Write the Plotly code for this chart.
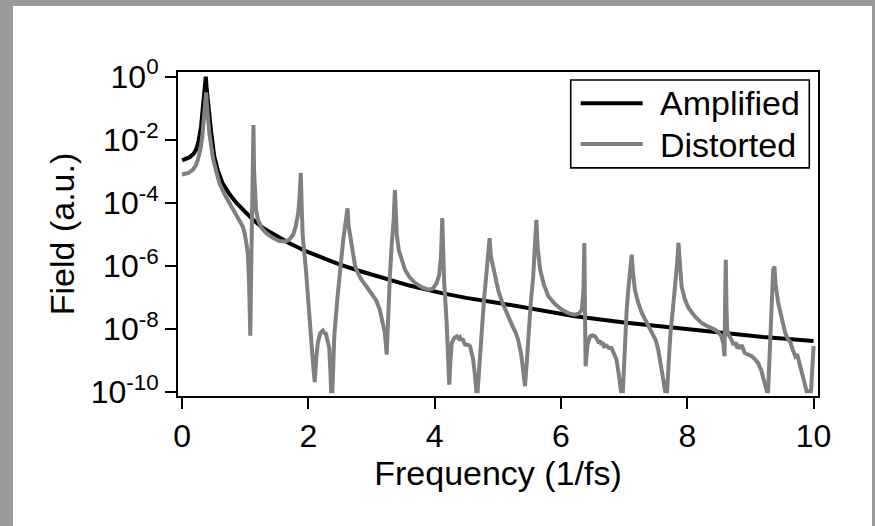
import plotly.graph_objects as go

# ---- data (frequency in 1/fs, field as log10 exponent) ----
amp_freq = [0.00, 0.05, 0.12, 0.18, 0.22, 0.26, 0.30, 0.33, 0.355, 0.375, 0.39, 0.40, 0.43,
            0.46, 0.51, 0.57, 0.64, 0.75, 0.86, 1.00, 1.12, 1.30, 1.49, 1.70, 1.96, 2.20,
            2.49, 2.80, 3.27, 3.60, 4.11, 4.50, 5.01, 5.50, 6.22, 7.00, 7.54, 8.54, 9.20, 10.00]
amp_log = [-2.65, -2.62, -2.55, -2.45, -2.32, -2.05, -1.58, -0.95, -0.42, 0.00, -0.40, -0.62, -1.16,
           -1.75, -2.53, -3.00, -3.37, -3.72, -4.00, -4.28, -4.53, -4.82, -5.05, -5.28, -5.53, -5.73,
           -5.95, -6.15, -6.43, -6.62, -6.86, -7.01, -7.17, -7.33, -7.59, -7.79, -7.91, -8.12, -8.25, -8.38]

dist_freq = [0.00, 0.10, 0.17, 0.22, 0.25, 0.29, 0.32, 0.345, 0.365, 0.38, 0.395, 0.41, 0.43, 0.46,
             0.49, 0.54, 0.59, 0.67, 0.75, 0.83, 0.91, 0.96, 0.99, 1.02, 1.04, 1.06, 1.07, 1.08,
             1.095, 1.11, 1.12, 1.13, 1.14, 1.15, 1.17, 1.20, 1.26, 1.33, 1.43, 1.54, 1.63, 1.70,
             1.76, 1.80, 1.84, 1.86, 1.88, 1.895, 1.91, 1.96, 2.00, 2.04, 2.07, 2.10, 2.125, 2.15,
             2.19, 2.23, 2.26, 2.27, 2.29, 2.31, 2.33, 2.35, 2.36, 2.38, 2.41, 2.46, 2.50, 2.55,
             2.58, 2.61, 2.62, 2.635, 2.66, 2.70, 2.74, 2.79, 2.84, 2.92, 3.00, 3.07, 3.13, 3.18,
             3.21, 3.24, 3.265, 3.29, 3.32, 3.35, 3.37, 3.385, 3.40, 3.43, 3.48, 3.53, 3.60, 3.69,
             3.80, 3.90, 3.97, 4.03, 4.07, 4.10, 4.12, 4.135, 4.15, 4.19, 4.21, 4.23, 4.25, 4.27,
             4.31, 4.35, 4.38, 4.40, 4.42, 4.44, 4.48, 4.53, 4.56, 4.59, 4.61, 4.64, 4.66, 4.68,
             4.71, 4.74, 4.78, 4.82, 4.85, 4.87, 4.89, 4.93, 4.98, 5.01, 5.06, 5.14, 5.22, 5.28,
             5.32, 5.37, 5.40, 5.43, 5.46, 5.48, 5.52, 5.56, 5.59, 5.61, 5.63, 5.67, 5.73, 5.80,
             5.90, 6.01, 6.12, 6.22, 6.29, 6.33, 6.355, 6.37, 6.38, 6.39, 6.42, 6.46, 6.50, 6.54,
             6.58, 6.60, 6.62, 6.64, 6.66, 6.68, 6.72, 6.76, 6.80, 6.85, 6.88, 6.92, 6.95, 6.98,
             7.01, 7.04, 7.07, 7.10, 7.12, 7.14, 7.17, 7.22, 7.28, 7.36, 7.44, 7.50, 7.54, 7.57,
             7.61, 7.65, 7.68, 7.73, 7.77, 7.81, 7.84, 7.86, 7.88, 7.91, 7.96, 8.02, 8.12, 8.23,
             8.34, 8.44, 8.50, 8.54, 8.57, 8.59, 8.60, 8.61, 8.62, 8.63, 8.66, 8.70, 8.73, 8.76,
             8.79, 8.81, 8.84, 8.86, 8.91, 8.96, 9.02, 9.07, 9.12, 9.17, 9.20, 9.23, 9.26, 9.28,
             9.31, 9.34, 9.36, 9.38, 9.40, 9.44, 9.50, 9.55, 9.60, 9.63, 9.67, 9.71, 9.74, 9.76,
             9.81, 9.85, 9.89, 9.96, 10.00]
dist_log = [-3.10, -3.05, -2.95, -2.80, -2.63, -2.30, -1.89, -1.35, -0.85, -0.50, -0.95, -1.35, -1.75, -2.20,
            -2.60, -3.00, -3.37, -3.72, -4.00, -4.27, -4.53, -4.75, -4.95, -5.25, -5.58, -6.50, -7.16, -8.21,
            -6.00, -4.42, -3.20, -1.53, -3.00, -3.79, -4.20, -4.53, -4.80, -4.95, -5.10, -5.21, -5.22, -5.16,
            -5.00, -4.74, -4.30, -3.80, -3.05, -4.20, -5.05, -6.10, -7.00, -8.21, -9.00, -9.68, -8.90, -8.42,
            -8.12, -8.05, -8.15, -8.10, -8.25, -8.40, -8.60, -9.40, -9.97, -9.97, -8.21, -7.00, -6.12, -5.20,
            -4.75, -4.30, -4.17, -4.70, -5.06, -5.60, -6.01, -6.25, -6.43, -6.65, -6.86, -7.08, -7.38, -7.80,
            -8.12, -8.81, -7.40, -6.33, -5.30, -4.54, -3.59, -4.60, -5.00, -5.49, -5.85, -6.12, -6.35, -6.54,
            -6.68, -6.75, -6.72, -6.54, -6.30, -5.70, -4.48, -5.60, -6.50, -7.81, -8.60, -9.76, -9.00, -8.44,
            -8.28, -8.23, -8.30, -8.26, -8.36, -8.30, -8.49, -8.50, -8.54, -8.75, -8.97, -9.50, -9.97, -9.97,
            -8.90, -8.23, -7.10, -6.12, -5.50, -5.12, -5.70, -6.12, -6.60, -6.80, -7.10, -7.50, -7.85, -8.10,
            -8.33, -8.80, -9.28, -9.81, -9.00, -8.23, -7.20, -6.33, -5.30, -4.54, -5.40, -6.12, -6.60, -6.96,
            -7.20, -7.38, -7.50, -7.54, -7.50, -7.38, -6.80, -5.27, -7.50, -9.18, -8.50, -8.23, -8.20, -8.23,
            -8.35, -8.45, -8.36, -8.50, -8.42, -8.55, -8.52, -8.60, -8.60, -8.80, -8.97, -9.50, -9.97, -9.97,
            -8.23, -7.40, -6.65, -6.00, -5.64, -6.20, -6.75, -7.15, -7.49, -7.80, -8.12, -8.35, -8.65, -9.07,
            -9.60, -9.97, -9.97, -8.23, -7.40, -6.65, -5.90, -5.27, -6.00, -6.65, -7.05, -7.33, -7.60, -7.81,
            -7.93, -8.02, -8.12, -8.23, -8.45, -8.86, -7.00, -5.80, -7.20, -8.02, -8.20, -8.33, -8.50, -8.42,
            -8.60, -8.54, -8.62, -8.50, -8.76, -8.80, -8.86, -8.95, -9.07, -9.30, -9.49, -9.75, -9.97, -9.97,
            -8.23, -7.00, -6.12, -6.01, -6.60, -7.17, -7.70, -8.12, -8.35, -8.40, -8.65, -8.86, -8.80, -8.95,
            -9.28, -9.60, -9.97, -9.97, -8.54]

x_ticks = [0, 2, 4, 6, 8, 10]
y_tick_exp = [0, -2, -4, -6, -8, -10]
series_names = ["Amplified", "Distorted"]
series_colors = ["#000000", "#808080"]

amp_field = [10 ** v for v in amp_log]
dist_field = [10 ** v for v in dist_log]

FONT = "Liberation Sans, Arial, Helvetica, sans-serif"

fig = go.Figure()
fig.add_trace(go.Scatter(x=amp_freq, y=amp_field, mode="lines", name=series_names[0],
                         line=dict(color=series_colors[0], width=4), showlegend=False))
fig.add_trace(go.Scatter(x=dist_freq, y=dist_field, mode="lines", name=series_names[1],
                         line=dict(color=series_colors[1], width=4), showlegend=False))

# plot area in pixels: left 178, right 818, top 72, bottom 396.5
L, R, T, B = 178, 818, 72, 396.5
W, H = R - L, B - T
def px(x):
    return (x - L) / W
def py(y):
    return (B - y) / H

shapes = [
    # white card on grey page
    dict(type="rect", xref="paper", yref="paper", x0=px(13), x1=px(872), y0=py(540), y1=py(6),
         fillcolor="white", line=dict(width=0), layer="below"),
    # legend box
    dict(type="rect", xref="paper", yref="paper", x0=px(570.7), x1=px(809.3), y0=py(168), y1=py(80),
         fillcolor="rgba(0,0,0,0)", line=dict(color="black", width=1.6)),
    dict(type="line", xref="paper", yref="paper", x0=px(580.7), x1=px(642.7), y0=py(103.3), y1=py(103.3),
         line=dict(color=series_colors[0], width=4)),
    dict(type="line", xref="paper", yref="paper", x0=px(580.7), x1=px(642.7), y0=py(144), y1=py(144),
         line=dict(color=series_colors[1], width=4)),
]
annotations = [
    dict(xref="paper", yref="paper", x=px(658), y=py(103.3), text=series_names[0], showarrow=False,
         xanchor="left", yanchor="middle", font=dict(family=FONT, size=34, color="black")),
    dict(xref="paper", yref="paper", x=px(658), y=py(145), text=series_names[1], showarrow=False,
         xanchor="left", yanchor="middle", font=dict(family=FONT, size=34, color="black")),
]

fig.update_layout(
    width=875, height=526,
    margin=dict(l=L, r=875 - R, t=T, b=526 - B, pad=0, autoexpand=False),
    paper_bgcolor="#999999", plot_bgcolor="white",
    font=dict(family=FONT, color="black"),
    shapes=shapes, annotations=annotations,
    showlegend=False,
)
fig.update_xaxes(
    automargin=False,
    range=[-0.065, 10.07], tickvals=x_ticks, ticktext=[str(v) for v in x_ticks],
    showline=True, linecolor="black", linewidth=2, mirror=True,
    ticks="outside", ticklen=11, tickwidth=2, tickcolor="black",
    showgrid=False, zeroline=False,
    tickfont=dict(family=FONT, size=32, color="black"),
    title=dict(text="Frequency (1/fs)", font=dict(family=FONT, size=34, color="black"), standoff=8),
)
fig.update_yaxes(
    automargin=False,
    type="log", range=[-10.12, 0.149],
    tickvals=[10 ** e for e in y_tick_exp],
    ticktext=["10<sup>%d</sup>" % e for e in y_tick_exp],
    showline=True, linecolor="black", linewidth=2, mirror=True,
    ticks="outside", ticklen=11, tickwidth=2, tickcolor="black",
    showgrid=False, zeroline=False,
    tickfont=dict(family=FONT, size=32, color="black"),
    title=dict(text="Field (a.u.)", font=dict(family=FONT, size=34, color="black"), standoff=6),
)

fig.write_html("out.html", config={"displayModeBar": False},
               post_script="document.body.style.margin='0';document.body.style.overflow='hidden';")
